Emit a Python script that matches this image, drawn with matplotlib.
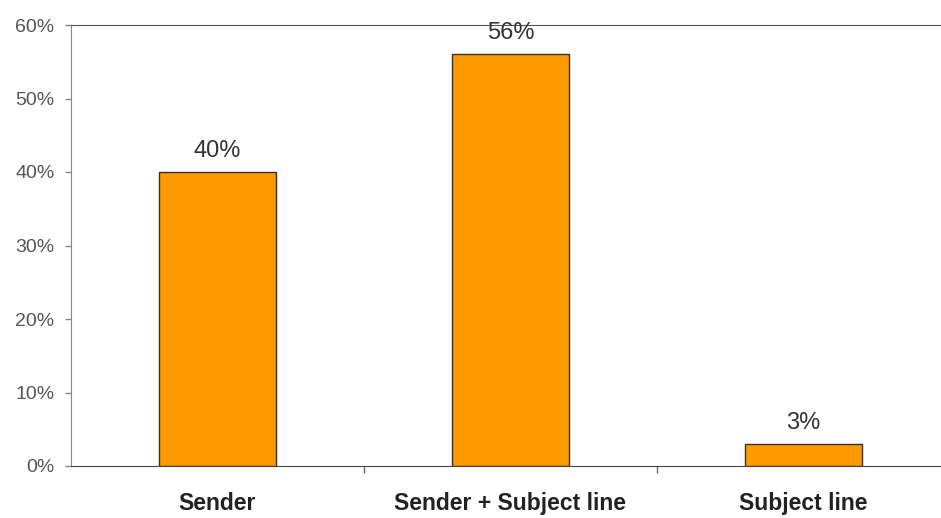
import matplotlib
matplotlib.use("Agg")
import matplotlib.pyplot as plt

categories = ["Sender", "Sender + Subject line", "Subject line"]
values = [40, 56, 3]
yticks = [0, 10, 20, 30, 40, 50, 60]

plt.rcParams['font.family'] = ['Liberation Sans', 'DejaVu Sans']

fig = plt.figure(figsize=(9.41, 5.18), dpi=100)
# plot area runs a little past the right edge, as in the original
ax = fig.add_axes([71 / 941, 52 / 518, 879 / 941, 441 / 518])

x = range(len(categories))
ax.bar(x, values, width=0.4, color="#FF9900", edgecolor="#3a3020", linewidth=1)

for xi, v in zip(x, values):
    ax.annotate(f"{v}%", (xi, v), xytext=(0, 11), textcoords="offset points",
                ha="center", va="baseline", fontsize=17, color="#333333")

ax.set_xlim(-0.5, 2.5)
ax.set_ylim(0, 60)
ax.set_yticks(yticks)
ax.set_yticklabels([f"{t}%" for t in yticks], fontsize=14, color="#555555")
ax.tick_params(axis="y", length=4, width=1, color="#888888", pad=8)

ax.set_xticks(list(x))
ax.set_xticklabels(categories, fontsize=16.5, fontweight="bold", color="#222222")
ax.tick_params(axis="x", which="major", length=0, pad=19)
ax.set_xticks([0.5, 1.5], minor=True)
ax.tick_params(axis="x", which="minor", length=5, width=1, color="#666666")

ax.spines["right"].set_visible(False)
ax.spines["left"].set_color("#888888")
ax.spines["top"].set_color("#555555")
ax.spines["bottom"].set_color("#444444")

fig.savefig("out.png", dpi=100)
